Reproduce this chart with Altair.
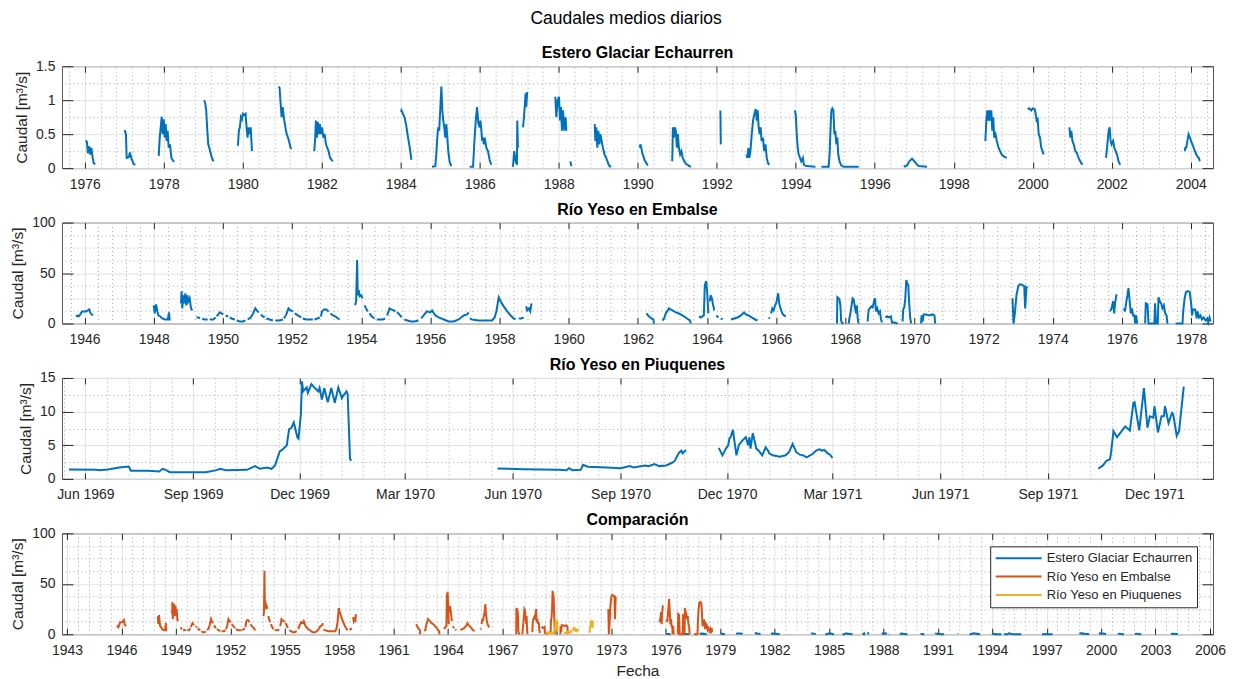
import altair as alt
import pandas as pd

FONT = "Liberation Sans"
TXT = "#262626"

SERIES = ["Estero Glaciar Echaurren", "Río Yeso en Embalse", "Río Yeso en Piuquenes"]
COLORS = ["#0072BD", "#D95319", "#EDB120"]

# ---------------- data ----------------
ECHAURREN = [
    [("1976-01-13", 0.41), ("1976-01-22", 0.38), ("1976-01-31", 0.22), ("1976-02-13", 0.32), ("1976-02-21", 0.20),
     ("1976-03-03", 0.30), ("1976-03-15", 0.15), ("1976-03-25", 0.07), ("1976-04-09", 0.06)],
    [("1977-01-04", 0.56), ("1977-01-17", 0.50), ("1977-01-23", 0.15), ("1977-02-11", 0.16), ("1977-02-23", 0.23),
     ("1977-03-07", 0.15), ("1977-03-20", 0.10), ("1977-03-29", 0.06), ("1977-04-14", 0.05)],
    [("1977-11-16", 0.18), ("1977-11-25", 0.45), ("1977-12-04", 0.60), ("1977-12-13", 0.76), ("1977-12-22", 0.50),
     ("1978-01-01", 0.72), ("1978-01-10", 0.45), ("1978-01-19", 0.65), ("1978-01-28", 0.40), ("1978-02-06", 0.55),
     ("1978-02-16", 0.30), ("1978-02-28", 0.35), ("1978-03-13", 0.15), ("1978-03-25", 0.12), ("1978-04-06", 0.09)],
    [("1979-01-11", 1.00), ("1979-01-20", 0.95), ("1979-01-29", 0.85), ("1979-02-08", 0.55), ("1979-02-17", 0.35),
     ("1979-02-26", 0.30), ("1979-03-11", 0.22), ("1979-03-23", 0.15), ("1979-04-07", 0.10)],
    [("1979-11-18", 0.33), ("1979-11-27", 0.55), ("1979-12-06", 0.60), ("1979-12-16", 0.75), ("1979-12-25", 0.72),
     ("1980-01-03", 0.80), ("1980-01-15", 0.78), ("1980-01-28", 0.80), ("1980-02-06", 0.60), ("1980-02-15", 0.45),
     ("1980-02-24", 0.60), ("1980-03-05", 0.50), ("1980-03-15", 0.60), ("1980-03-27", 0.25)],
    [("1980-11-28", 1.20), ("1980-12-07", 1.18), ("1980-12-17", 0.95), ("1980-12-26", 0.75), ("1981-01-05", 0.90),
     ("1981-01-18", 0.72), ("1981-01-30", 0.60), ("1981-02-11", 0.50), ("1981-02-23", 0.45), ("1981-03-07", 0.38),
     ("1981-03-19", 0.30), ("1981-03-25", 0.28)],
    [("1981-10-24", 0.25), ("1981-11-02", 0.45), ("1981-11-08", 0.70), ("1981-11-17", 0.45), ("1981-11-26", 0.68),
     ("1981-12-06", 0.50), ("1981-12-15", 0.65), ("1981-12-24", 0.50), ("1982-01-04", 0.60), ("1982-01-16", 0.45),
     ("1982-01-28", 0.50), ("1982-02-09", 0.35), ("1982-02-21", 0.30), ("1982-03-05", 0.25), ("1982-03-20", 0.15),
     ("1982-04-04", 0.12), ("1982-04-13", 0.10)],
    [("1984-01-04", 0.83), ("1984-01-08", 0.85), ("1984-01-22", 0.80), ("1984-02-07", 0.74), ("1984-02-22", 0.62),
     ("1984-03-09", 0.45), ("1984-03-25", 0.30), ("1984-04-09", 0.12)],
    [("1984-10-17", 0.02), ("1984-11-16", 0.03), ("1984-11-25", 0.20), ("1984-12-04", 0.45), ("1984-12-13", 0.60),
     ("1984-12-22", 0.55), ("1985-01-02", 0.90), ("1985-01-11", 1.20), ("1985-01-20", 0.85), ("1985-01-29", 0.70),
     ("1985-02-07", 0.60), ("1985-02-16", 0.45), ("1985-02-26", 0.65), ("1985-03-07", 0.45), ("1985-03-16", 0.25),
     ("1985-03-28", 0.10), ("1985-04-12", 0.03)],
    [("1985-09-30", 0.02), ("1985-10-31", 0.02), ("1985-11-13", 0.40), ("1985-11-25", 0.70), ("1985-12-07", 0.90),
     ("1985-12-20", 0.65), ("1986-01-01", 0.60), ("1986-01-08", 0.70), ("1986-01-16", 0.55), ("1986-01-24", 0.40),
     ("1986-01-31", 0.45), ("1986-02-08", 0.35), ("1986-02-16", 0.45), ("1986-03-03", 0.30), ("1986-03-18", 0.25),
     ("1986-04-03", 0.12), ("1986-04-18", 0.05)],
    [("1986-11-04", 0.02), ("1986-11-16", 0.25), ("1986-11-29", 0.10), ("1986-12-11", 0.05), ("1986-12-14", 0.70),
     ("1986-12-20", 0.30)],
    [("1987-02-05", 0.60), ("1987-02-14", 0.75), ("1987-02-23", 0.95), ("1987-03-01", 1.10), ("1987-03-07", 0.90),
     ("1987-03-16", 1.12)],
    [("1987-12-01", 1.05), ("1987-12-10", 0.75), ("1987-12-23", 1.00), ("1988-01-04", 1.05), ("1988-01-13", 0.70),
     ("1988-01-22", 0.90), ("1988-01-31", 0.55), ("1988-02-10", 0.85), ("1988-02-22", 0.55), ("1988-03-05", 0.75),
     ("1988-03-11", 0.55)],
    [("1988-04-18", 0.10), ("1988-04-27", 0.03)],
    [("1988-11-29", 0.65), ("1988-12-05", 0.40), ("1988-12-14", 0.60), ("1988-12-23", 0.30), ("1989-01-02", 0.55),
     ("1989-01-11", 0.35), ("1989-01-20", 0.50), ("1989-02-01", 0.40), ("1989-02-13", 0.30), ("1989-02-28", 0.20),
     ("1989-03-15", 0.15), ("1989-03-31", 0.08), ("1989-04-15", 0.03), ("1989-04-30", 0.02)],
    [("1990-01-19", 0.30), ("1990-01-25", 0.35), ("1990-02-03", 0.30), ("1990-02-12", 0.22), ("1990-02-21", 0.18),
     ("1990-03-05", 0.12), ("1990-03-20", 0.08), ("1990-04-04", 0.04)],
    [("1990-11-16", 0.10), ("1990-11-22", 0.60), ("1990-12-01", 0.45), ("1990-12-10", 0.60), ("1990-12-19", 0.55),
     ("1990-12-29", 0.30), ("1991-01-07", 0.50), ("1991-01-16", 0.30), ("1991-01-28", 0.20), ("1991-02-09", 0.25),
     ("1991-02-21", 0.15), ("1991-03-08", 0.10), ("1991-03-24", 0.06), ("1991-04-08", 0.05), ("1991-04-23", 0.03),
     ("1991-05-08", 0.02)],
    [("1992-02-04", 0.85), ("1992-02-06", 0.60), ("1992-02-08", 0.35)],
    [("1992-10-02", 0.20), ("1992-10-11", 0.15), ("1992-10-20", 0.30), ("1992-10-29", 0.15), ("1992-11-08", 0.25),
     ("1992-11-20", 0.50), ("1992-12-02", 0.70), ("1992-12-14", 0.80), ("1992-12-27", 0.87), ("1993-01-05", 0.70),
     ("1993-01-14", 0.85), ("1993-01-23", 0.60), ("1993-02-01", 0.50), ("1993-02-10", 0.60), ("1993-02-19", 0.40),
     ("1993-03-03", 0.45), ("1993-03-15", 0.25), ("1993-03-27", 0.35), ("1993-04-08", 0.15), ("1993-04-20", 0.07),
     ("1993-05-02", 0.05)],
    [("1993-12-23", 0.85), ("1994-01-01", 0.78), ("1994-01-10", 0.50), ("1994-01-19", 0.30), ("1994-01-28", 0.20),
     ("1994-02-09", 0.15), ("1994-02-21", 0.10), ("1994-03-08", 0.15), ("1994-03-17", 0.05), ("1994-04-08", 0.03),
     ("1994-07-02", 0.02)],
    [("1994-08-26", 0.02), ("1994-11-01", 0.02), ("1994-11-10", 0.20), ("1994-11-19", 0.60), ("1994-11-26", 0.85),
     ("1994-12-05", 0.88), ("1994-12-15", 0.85), ("1994-12-24", 0.50), ("1995-01-02", 0.55), ("1995-01-11", 0.35),
     ("1995-01-20", 0.45), ("1995-01-29", 0.20), ("1995-02-10", 0.10), ("1995-02-25", 0.04), ("1995-03-19", 0.02),
     ("1995-08-06", 0.02)],
    [("1996-09-25", 0.02), ("1996-10-26", 0.04), ("1996-11-16", 0.10), ("1996-12-11", 0.14), ("1996-12-27", 0.11),
     ("1997-01-11", 0.08), ("1997-01-27", 0.05), ("1997-02-11", 0.03), ("1997-04-29", 0.02)],
    [("1998-10-20", 0.40), ("1998-10-29", 0.70), ("1998-11-07", 0.85), ("1998-11-16", 0.70), ("1998-11-25", 0.85),
     ("1998-12-05", 0.70), ("1998-12-14", 0.85), ("1998-12-23", 0.55), ("1999-01-01", 0.75), ("1999-01-10", 0.45),
     ("1999-01-22", 0.50), ("1999-02-03", 0.40), ("1999-02-19", 0.30), ("1999-03-05", 0.25), ("1999-03-20", 0.20),
     ("1999-04-11", 0.17), ("1999-05-05", 0.15)],
    [("1999-11-15", 0.87), ("1999-11-30", 0.88), ("1999-12-19", 0.85), ("2000-01-01", 0.88), ("2000-01-19", 0.87),
     ("2000-01-28", 0.80), ("2000-02-06", 0.70), ("2000-02-16", 0.72), ("2000-02-25", 0.50), ("2000-03-08", 0.45),
     ("2000-03-20", 0.30), ("2000-04-01", 0.25), ("2000-04-10", 0.20)],
    [("2000-12-05", 0.60), ("2000-12-14", 0.45), ("2000-12-23", 0.55), ("2001-01-02", 0.40), ("2001-01-14", 0.35),
     ("2001-01-29", 0.25), ("2001-02-13", 0.22), ("2001-02-28", 0.15), ("2001-03-15", 0.10), ("2001-04-05", 0.05)],
    [("2001-11-09", 0.15), ("2001-11-21", 0.35), ("2001-12-03", 0.55), ("2001-12-12", 0.60), ("2001-12-21", 0.40),
     ("2001-12-30", 0.35), ("2002-01-13", 0.40), ("2002-01-25", 0.30), ("2002-02-06", 0.25), ("2002-02-18", 0.20),
     ("2002-03-05", 0.10), ("2002-03-20", 0.05)],
    [("2003-11-06", 0.25), ("2003-11-12", 0.30), ("2003-11-21", 0.30), ("2003-12-03", 0.42), ("2003-12-12", 0.50),
     ("2003-12-24", 0.45), ("2004-01-04", 0.40), ("2004-01-16", 0.35), ("2004-01-28", 0.30), ("2004-02-09", 0.25),
     ("2004-02-21", 0.20), ("2004-03-04", 0.17), ("2004-03-16", 0.15), ("2004-03-25", 0.10)],
]

EMBALSE = [
    [("1945-10-02", 7), ("1945-10-16", 8), ("1945-10-30", 7), ("1945-11-17", 9), ("1945-12-04", 12), ("1945-12-25", 12),
     ("1946-01-15", 12), ("1946-02-05", 13), ("1946-02-19", 14), ("1946-03-05", 10), ("1946-03-19", 9), ("1946-03-30", 8)],
    [("1948-01-01", 18), ("1948-01-12", 10), ("1948-01-26", 19), ("1948-02-09", 12), ("1948-02-19", 8), ("1948-03-11", 7),
     ("1948-04-01", 5), ("1948-04-29", 4), ("1948-05-28", 4), ("1948-06-11", 11), ("1948-06-18", 3)],
    [("1948-10-15", 20), ("1948-10-22", 32), ("1948-10-29", 15), ("1948-11-09", 28), ("1948-11-19", 20), ("1948-11-30", 30),
     ("1948-12-11", 18), ("1948-12-22", 28), ("1949-01-01", 22), ("1949-01-15", 25), ("1949-01-29", 15), ("1949-02-12", 13)],
    [("1949-03-28", 6), ("1949-04-16", 6), ("1949-05-04", 5)],
    [("1949-05-27", 4.5), ("1949-06-25", 4), ("1949-07-24", 4)],
    [("1949-08-17", 4), ("1949-09-21", 4), ("1949-10-17", 6)],
    [("1949-10-27", 7), ("1949-11-13", 9), ("1949-11-30", 11), ("1949-12-17", 10), ("1950-01-04", 9)],
    [("1950-01-29", 8), ("1950-02-26", 7)],
    [("1950-03-14", 6), ("1950-04-01", 5), ("1950-05-07", 4)],
    [("1950-05-27", 3), ("1950-06-29", 2), ("1950-07-31", 2), ("1950-08-27", 3)],
    [("1950-09-20", 4), ("1950-10-23", 6), ("1950-11-16", 10), ("1950-12-09", 15), ("1950-12-24", 13), ("1951-01-15", 11)],
    [("1951-02-06", 9), ("1951-02-28", 7), ("1951-03-17", 6)],
    [("1951-04-05", 5), ("1951-05-10", 4), ("1951-06-13", 3)],
    [("1951-07-09", 3), ("1951-08-22", 3), ("1951-09-27", 4)],
    [("1951-10-08", 5), ("1951-11-02", 9), ("1951-11-25", 15), ("1951-12-16", 13), ("1952-01-11", 12)],
    [("1952-01-30", 10), ("1952-03-03", 8), ("1952-04-08", 6)],
    [("1952-04-23", 5), ("1952-05-30", 4), ("1952-07-02", 4), ("1952-08-08", 4)],
    [("1952-08-26", 4), ("1952-09-24", 5), ("1952-10-20", 6)],
    [("1952-10-31", 7), ("1952-11-13", 12), ("1952-12-03", 14), ("1952-12-29", 14), ("1953-01-22", 12)],
    [("1953-02-10", 10), ("1953-03-08", 8), ("1953-04-02", 7), ("1953-05-02", 5), ("1953-05-18", 4)],
    [("1953-10-29", 18), ("1953-11-08", 22), ("1953-11-19", 63), ("1953-11-25", 28), ("1953-12-05", 33), ("1953-12-17", 27),
     ("1954-01-01", 28), ("1954-01-15", 25)],
    [("1954-02-05", 18), ("1954-02-21", 15), ("1954-03-11", 12)],
    [("1954-03-29", 10), ("1954-04-23", 7), ("1954-05-21", 5)],
    [("1954-06-14", 4), ("1954-07-13", 4), ("1954-08-17", 4), ("1954-09-10", 5)],
    [("1954-10-02", 8), ("1954-10-27", 15), ("1954-11-14", 14), ("1954-12-10", 13), ("1954-12-28", 12)],
    [("1955-01-11", 11), ("1955-01-30", 10), ("1955-03-04", 6)],
    [("1955-04-02", 4), ("1955-05-05", 3), ("1955-06-10", 2), ("1955-07-16", 2), ("1955-08-29", 3)],
    [("1955-09-27", 5), ("1955-10-22", 8), ("1955-11-25", 12), ("1956-01-01", 11), ("1956-01-19", 13), ("1956-02-23", 8),
     ("1956-03-29", 6), ("1956-05-22", 4), ("1956-07-13", 2), ("1956-09-04", 2), ("1956-10-27", 4), ("1956-12-19", 8),
     ("1957-01-23", 9), ("1957-02-10", 11)],
    [("1957-02-21", 5), ("1957-03-15", 4), ("1957-05-27", 3), ("1957-08-04", 3), ("1957-10-14", 3), ("1957-11-10", 6),
     ("1957-11-28", 12), ("1957-12-24", 26), ("1958-01-12", 22), ("1958-02-14", 17), ("1958-03-23", 12),
     ("1958-04-28", 8), ("1958-05-31", 5), ("1958-06-18", 4)],
    [("1958-07-24", 5), ("1958-08-21", 5), ("1958-09-13", 6)],
    [("1958-10-09", 17), ("1958-10-20", 13), ("1958-11-07", 15), ("1958-11-22", 12), ("1958-12-04", 20)],
    [("1962-04-01", 10), ("1962-04-28", 7), ("1962-05-27", 5), ("1962-06-14", 4), ("1962-06-20", 0)],
    [("1962-09-17", 3), ("1962-10-05", 5), ("1962-10-22", 10), ("1962-11-07", 12), ("1962-11-25", 15), ("1962-12-13", 14),
     ("1963-01-01", 13), ("1963-02-05", 11), ("1963-03-11", 10), ("1963-04-16", 8), ("1963-05-21", 6), ("1963-06-18", 4),
     ("1963-07-06", 3), ("1963-07-13", 0)],
    [("1963-10-09", 7), ("1963-10-27", 6), ("1963-11-12", 7), ("1963-11-29", 8), ("1963-12-09", 38), ("1963-12-24", 42),
     ("1964-01-04", 30), ("1964-01-15", 10)],
    [("1964-01-30", 22), ("1964-02-10", 28), ("1964-02-21", 25), ("1964-03-07", 18), ("1964-03-18", 13)],
    [("1964-04-09", 8), ("1964-05-01", 6)],
    [("1964-05-27", 5), ("1964-06-14", 4)],
    [("1964-09-10", 4), ("1964-10-13", 5), ("1964-11-18", 6), ("1964-12-24", 8), ("1965-01-26", 11), ("1965-02-14", 9),
     ("1965-03-14", 8), ("1965-04-16", 6), ("1965-05-23", 4), ("1965-06-18", 3)],
    [("1965-10-13", 6), ("1965-10-27", 5)],
    [("1965-11-08", 10), ("1965-11-21", 15), ("1965-12-05", 13), ("1965-12-20", 18), ("1966-01-01", 20), ("1966-01-22", 30),
     ("1966-02-02", 20), ("1966-02-19", 14), ("1966-03-07", 10), ("1966-03-25", 8), ("1966-04-13", 7)],
    [("1967-10-05", 0), ("1967-10-09", 26), ("1967-10-20", 25), ("1967-10-31", 24), ("1967-11-10", 18), ("1967-11-18", 3),
     ("1967-11-25", 1), ("1967-12-13", 0)],
    [("1968-02-06", 0), ("1968-02-13", 5), ("1968-02-28", 12), ("1968-03-18", 25), ("1968-03-29", 24), ("1968-04-05", 20),
     ("1968-04-23", 10), ("1968-05-01", 18), ("1968-05-12", 4), ("1968-05-21", 0)],
    [("1968-08-24", 2), ("1968-09-04", 14), ("1968-09-17", 15), ("1968-10-02", 17), ("1968-10-16", 16), ("1968-10-31", 22),
     ("1968-11-10", 25), ("1968-11-20", 12), ("1968-12-04", 15), ("1968-12-18", 10), ("1969-01-01", 12), ("1969-01-11", 5),
     ("1969-01-22", 1)],
    [("1969-02-27", 6), ("1969-03-15", 7), ("1969-04-09", 6), ("1969-04-27", 7), ("1969-05-08", 1), ("1969-06-02", 1),
     ("1969-07-06", 0)],
    [("1969-08-28", 2), ("1969-09-04", 14), ("1969-09-15", 16), ("1969-09-26", 25), ("1969-10-06", 43), ("1969-10-16", 40),
     ("1969-10-27", 38), ("1969-11-06", 20), ("1969-11-17", 5), ("1969-11-27", 0)],
    [("1970-03-11", 0), ("1970-03-17", 8), ("1970-03-28", 2), ("1970-04-07", 9), ("1970-05-02", 9), ("1970-06-06", 8),
     ("1970-07-09", 9), ("1970-07-31", 8), ("1970-08-07", 0)],
    [("1972-11-01", 25), ("1972-11-12", 0), ("1972-11-26", 10), ("1972-12-13", 28), ("1973-01-01", 37), ("1973-01-18", 39),
     ("1973-02-15", 38), ("1973-03-05", 37), ("1973-03-15", 15), ("1973-03-29", 36), ("1973-04-09", 35)],
    [("1975-08-29", 12), ("1975-09-13", 15), ("1975-09-30", 22), ("1975-10-11", 10), ("1975-10-20", 20), ("1975-11-03", 28),
     ("1975-11-14", 28)],
    [("1976-01-22", 15), ("1976-02-02", 12), ("1976-02-17", 22), ("1976-02-28", 28), ("1976-03-10", 35), ("1976-03-25", 20),
     ("1976-04-04", 10), ("1976-04-15", 15), ("1976-04-28", 8), ("1976-05-12", 8), ("1976-05-19", 0), ("1976-05-30", 8),
     ("1976-06-10", 0)],
    [("1976-09-02", 0), ("1976-09-09", 20), ("1976-09-27", 19), ("1976-10-08", 0), ("1976-12-09", 0), ("1976-12-16", 20),
     ("1976-12-27", 0), ("1977-01-14", 0), ("1977-01-21", 26), ("1977-02-04", 22), ("1977-02-18", 20), ("1977-03-04", 15),
     ("1977-03-19", 18), ("1977-04-02", 10), ("1977-04-16", 8), ("1977-04-26", 0)],
    [("1977-07-22", 0), ("1977-10-02", 0), ("1977-10-09", 12), ("1977-10-24", 25), ("1977-11-07", 31), ("1977-11-26", 32),
     ("1977-12-17", 31), ("1978-01-01", 20), ("1978-01-11", 8), ("1978-01-22", 14), ("1978-02-13", 14), ("1978-03-01", 5),
     ("1978-03-11", 12), ("1978-03-26", 6), ("1978-04-10", 8), ("1978-04-25", 4), ("1978-05-13", 6), ("1978-06-03", 3),
     ("1978-06-19", 5), ("1978-06-30", 1), ("1978-07-14", 6), ("1978-07-25", 2)],
]

PIUQUENES = [
    [("1969-05-18", 1.4), ("1969-06-10", 1.35), ("1969-06-13", 1.3), ("1969-06-20", 1.4), ("1969-06-30", 1.7),
     ("1969-07-08", 1.85), ("1969-07-10", 1.2), ("1969-07-25", 1.2), ("1969-08-03", 1.1), ("1969-08-06", 1.5),
     ("1969-08-09", 1.3), ("1969-08-12", 1.0), ("1969-09-12", 1.0), ("1969-09-21", 1.3), ("1969-09-24", 1.5),
     ("1969-09-29", 1.3), ("1969-10-17", 1.35), ("1969-10-24", 1.9), ("1969-10-28", 1.5), ("1969-11-03", 1.7),
     ("1969-11-07", 1.5), ("1969-11-10", 2.0), ("1969-11-14", 4.1), ("1969-11-16", 4.3), ("1969-11-19", 4.8),
     ("1969-11-20", 5.0), ("1969-11-22", 7.4), ("1969-11-24", 7.6), ("1969-11-26", 8.4), ("1969-11-29", 6.2),
     ("1969-11-30", 6.0), ("1969-12-02", 9.5), ("1969-12-03", 14.5), ("1969-12-04", 13.0), ("1969-12-07", 13.6),
     ("1969-12-08", 12.8), ("1969-12-11", 14.1), ("1969-12-14", 13.5), ("1969-12-17", 13.0), ("1969-12-18", 13.5),
     ("1969-12-20", 11.8), ("1969-12-22", 13.5), ("1969-12-25", 11.4), ("1969-12-28", 13.5), ("1969-12-31", 11.3),
     ("1970-01-03", 13.6), ("1970-01-06", 12.0), ("1970-01-07", 12.3), ("1970-01-10", 13.0), ("1970-01-11", 12.6),
     ("1970-01-13", 3.0), ("1970-01-14", 2.7)],
    [("1970-05-19", 1.55), ("1970-06-10", 1.45), ("1970-06-25", 1.4), ("1970-07-10", 1.35), ("1970-07-17", 1.3),
     ("1970-07-19", 1.6), ("1970-07-22", 1.3), ("1970-07-29", 1.35), ("1970-07-31", 2.1), ("1970-08-04", 1.8),
     ("1970-08-20", 1.7), ("1970-09-01", 1.6), ("1970-09-09", 1.9), ("1970-09-12", 1.7), ("1970-09-22", 2.0),
     ("1970-09-25", 1.9), ("1970-09-30", 2.2), ("1970-10-04", 1.9), ("1970-10-10", 2.0), ("1970-10-15", 2.4),
     ("1970-10-17", 2.6), ("1970-10-21", 3.9), ("1970-10-23", 4.2), ("1970-10-24", 3.8), ("1970-10-27", 4.3)],
    [("1970-11-24", 4.6), ("1970-11-27", 3.5), ("1970-11-30", 4.5), ("1970-12-02", 5.0), ("1970-12-03", 6.0),
     ("1970-12-04", 6.2), ("1970-12-06", 7.3), ("1970-12-07", 6.0), ("1970-12-09", 3.5), ("1970-12-11", 5.0),
     ("1970-12-14", 5.7), ("1970-12-17", 6.2), ("1970-12-19", 5.0), ("1970-12-20", 6.2), ("1970-12-21", 4.5),
     ("1970-12-23", 6.8), ("1970-12-26", 4.5), ("1970-12-28", 4.2), ("1970-12-31", 3.5), ("1971-01-03", 4.7),
     ("1971-01-05", 4.2), ("1971-01-06", 3.8), ("1971-01-09", 3.5), ("1971-01-15", 3.3), ("1971-01-20", 3.5),
     ("1971-01-23", 4.0), ("1971-01-26", 5.2), ("1971-01-29", 4.0), ("1971-02-01", 3.6), ("1971-02-04", 3.5),
     ("1971-02-07", 3.2), ("1971-02-12", 3.7), ("1971-02-15", 4.2), ("1971-02-18", 4.4), ("1971-02-20", 4.2),
     ("1971-02-22", 4.3), ("1971-02-25", 3.8), ("1971-02-27", 3.6), ("1971-03-01", 3.1)],
    [("1971-10-14", 1.5), ("1971-10-18", 2.0), ("1971-10-21", 2.7), ("1971-10-24", 2.9), ("1971-10-25", 4.0),
     ("1971-10-27", 7.1), ("1971-10-30", 6.2), ("1971-11-03", 7.1), ("1971-11-06", 7.8), ("1971-11-10", 7.2),
     ("1971-11-13", 11.3), ("1971-11-14", 11.4), ("1971-11-18", 7.2), ("1971-11-22", 13.5), ("1971-11-25", 7.6),
     ("1971-11-27", 9.3), ("1971-11-30", 9.1), ("1971-12-01", 10.8), ("1971-12-04", 6.9), ("1971-12-07", 9.3),
     ("1971-12-09", 9.3), ("1971-12-10", 10.8), ("1971-12-13", 8.3), ("1971-12-16", 9.8), ("1971-12-17", 9.6),
     ("1971-12-20", 6.4), ("1971-12-22", 7.1), ("1971-12-26", 13.7)],
]

# axis limits and tick labels
P1_XDOM = ("1975-06-05", "2004-07-25")
P2_XDOM = ("1945-05-07", "1978-08-20")
P3_XDOM = ("1969-05-12", "1972-01-20")
P4_XDOM = ("1942-09-20", "2006-03-03")
P1_XMAJ = [f"{y}-01-01" for y in range(1974, 2007, 2)]
P2_XMAJ = [f"{y}-01-01" for y in range(1944, 1981, 2)]
P3_XMAJ = ["1969-03-01", "1969-06-01", "1969-09-01", "1969-12-01", "1970-03-01", "1970-06-01", "1970-09-01",
           "1970-12-01", "1971-03-01", "1971-06-01", "1971-09-01", "1971-12-01", "1972-03-01"]
P4_XMAJ = [f"{y}-01-01" for y in range(1940, 2010, 3)]
P1_Y = ([0, 0.5, 1, 1.5], [0.25, 0.75, 1.25], 1.5)
P2_Y = ([0, 50, 100], [12.5, 25, 37.5, 62.5, 75, 87.5], 100)
P3_Y = ([0, 5, 10, 15], [2.5, 7.5, 12.5], 15)
P4_Y = ([0, 50, 100], [12.5, 25, 37.5, 62.5, 75, 87.5], 100)
MINOR_DIV = 5


def build(segments, name, tag):
    rows = []
    for i, seg in enumerate(segments):
        for d, q in seg:
            rows.append({"fecha": d, "q": q, "serie": name, "seg": f"{tag}{i:02d}"})
    return pd.DataFrame(rows)


def ms(s):
    return int(pd.Timestamp(s, tz="UTC").value // 1_000_000)


df_e = build(ECHAURREN, SERIES[0], "e")
df_m = build(EMBALSE, SERIES[1], "m")
df_p = build(PIUQUENES, SERIES[2], "p")
df_all = pd.concat([df_e, df_m, df_p], ignore_index=True)

W = 1152


def panel(df, title, xdom, xmaj, fmt, yspec, height, color=None, legend=False, xtitle=None):
    ymaj, ymin, ymax = yspec
    lo, hi = ms(xdom[0]), ms(xdom[1])
    xs = alt.Scale(type="utc", domain=[lo, hi], nice=False)
    ys = alt.Scale(domain=[0, ymax], nice=False, zero=False)
    base = alt.Chart(df)
    all_maj = [ms(v) for v in xmaj]
    xmin_ms = []
    for a, b in zip(all_maj[:-1], all_maj[1:]):
        for k in range(1, MINOR_DIV):
            t = a + (b - a) * k // MINOR_DIV
            if lo <= t <= hi:
                xmin_ms.append(t)
    xmaj_ms = [t for t in all_maj if lo <= t <= hi]

    minor = base.mark_point(opacity=0).encode(
        x=alt.X("fecha:T", scale=xs, axis=alt.Axis(
            orient="top", values=xmin_ms, grid=True, gridDash=[1, 3], gridColor="#a8a8a8",
            gridWidth=1, labels=False, ticks=False, domain=False, title=None)),
        y=alt.Y("q:Q", scale=ys, axis=alt.Axis(
            orient="right", values=ymin, grid=True, gridDash=[1, 3], gridColor="#a8a8a8",
            gridWidth=1, labels=False, ticks=False, domain=False, title=None)),
    )

    enc = dict(
        x=alt.X("fecha:T", scale=xs, axis=alt.Axis(
            orient="bottom", values=xmaj_ms, labelExpr=f"utcFormat(datum.value, '{fmt}')", grid=True,
            gridColor="#e2e2e2", gridWidth=1, ticks=False, domain=False, labelFontSize=14,
            labelColor=TXT, labelFont=FONT, labelPadding=9, labelFlush=False, labelOverlap=False,
            title=xtitle, titleFontSize=15.5, titleColor=TXT, titleFont=FONT,
            titleFontWeight="normal", titlePadding=6)),
        y=alt.Y("q:Q", scale=ys, axis=alt.Axis(
            orient="left", values=ymaj, format="~r", grid=True, gridColor="#e2e2e2", gridWidth=1,
            ticks=False, domain=False, labelFontSize=14, labelColor=TXT, labelFont=FONT,
            labelPadding=7, title="Caudal [m³/s]", titleFontSize=15.5, titleColor=TXT,
            titleFont=FONT, titleFontWeight="normal", titlePadding=6)),
        detail="seg:N",
    )
    if legend:
        enc["color"] = alt.Color("serie:N", scale=alt.Scale(domain=SERIES, range=COLORS), legend=alt.Legend(
            title=None, orient="none", legendX=929, legendY=13, symbolType="stroke", symbolSize=2116,
            symbolStrokeWidth=2, clipHeight=15, rowPadding=3.3, labelFontSize=13, labelColor=TXT,
            labelFont=FONT, labelOffset=4, padding=4.5, strokeColor=TXT, fillColor="white", labelLimit=400))
        lines = base.mark_line(strokeWidth=2).encode(**enc)
    else:
        lines = base.mark_line(strokeWidth=2, color=color).encode(**enc)

    tick_a = base.mark_point(opacity=0).encode(
        x=alt.X("fecha:T", scale=xs, axis=alt.Axis(
            orient="bottom", offset=-6, values=xmaj_ms, ticks=True, tickSize=6, tickColor=TXT,
            tickWidth=1, labels=False, domain=False, grid=False, title=None)),
        y=alt.Y("q:Q", scale=ys, axis=alt.Axis(
            orient="left", offset=-11, values=ymaj, ticks=True, tickSize=11, tickColor=TXT,
            tickWidth=1, labels=False, domain=False, grid=False, title=None)),
    )
    tick_b = base.mark_point(opacity=0).encode(
        x=alt.X("fecha:T", scale=xs, axis=alt.Axis(
            orient="top", offset=-6, values=xmaj_ms, ticks=True, tickSize=6, tickColor=TXT,
            tickWidth=1, labels=False, domain=False, grid=False, title=None)),
        y=alt.Y("q:Q", scale=ys, axis=alt.Axis(
            orient="right", offset=-11, values=ymaj, ticks=True, tickSize=11, tickColor=TXT,
            tickWidth=1, labels=False, domain=False, grid=False, title=None)),
    )
    return alt.layer(minor, lines, tick_a, tick_b).resolve_axis(
        x="independent", y="independent"
    ).properties(
        width=W, height=height,
        title=alt.TitleParams(text=title, fontSize=16, fontWeight="bold", color="#000",
                              font=FONT, offset=-2, anchor="middle"),
    )


p1 = panel(df_e, "Estero Glaciar Echaurren", P1_XDOM, P1_XMAJ, "%Y", P1_Y, 102, color=COLORS[0])
p2 = panel(df_m, "Río Yeso en Embalse", P2_XDOM, P2_XMAJ, "%Y", P2_Y, 101, color=COLORS[0])
p3 = panel(df_p, "Río Yeso en Piuquenes", P3_XDOM, P3_XMAJ, "%b %Y", P3_Y, 101, color=COLORS[0])
p4 = panel(df_all, "Comparación", P4_XDOM, P4_XMAJ, "%Y", P4_Y, 101, legend=True, xtitle="Fecha")

chart = alt.vconcat(
    p1, p2, p3, p4, spacing=8.5,
    title=alt.TitleParams(text="Caudales medios diarios", fontSize=17.5, fontWeight="normal",
                          color="#000", font=FONT, anchor="middle", offset=17, dx=8),
).resolve_scale(color="independent").resolve_legend(color="independent").properties(
    padding={"left": 2, "top": 2, "right": 2, "bottom": 0}
).configure_view(stroke="#555555", strokeWidth=1)

chart.save("out.html", embed_options={"renderer": "svg", "actions": False})
